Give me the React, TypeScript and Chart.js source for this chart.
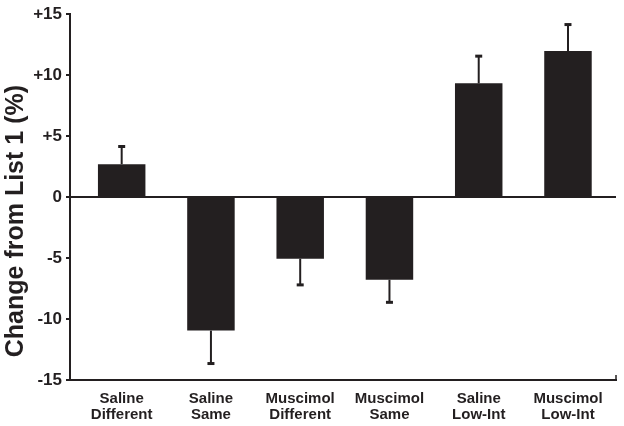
import React, { useEffect, useRef } from "react";
import { Chart, registerables } from "chart.js";

Chart.register(...registerables);

const categories: string[][] = [
  ["Saline", "Different"],
  ["Saline", "Same"],
  ["Muscimol", "Different"],
  ["Muscimol", "Same"],
  ["Saline", "Low-Int"],
  ["Muscimol", "Low-Int"],
];
const changeValues: number[] = [2.7, -10.95, -5.05, -6.78, 9.33, 11.98];
const errorValues: number[] = [1.45, 2.7, 2.15, 1.85, 2.23, 2.17];
const yTickValues: number[] = [-15, -10, -5, 0, 5, 10, 15];

const INK = "#231f20";
const FONT = "'Liberation Sans', Arial, Helvetica, sans-serif";

const errorBarPlugin = {
  id: "errorBars",
  afterDatasetsDraw(chart: any) {
    const meta = chart.getDatasetMeta(0);
    const yScale = chart.scales.y;
    const ctx = chart.ctx;
    ctx.save();
    ctx.strokeStyle = INK;
    meta.data.forEach((bar: any, i: number) => {
      const v = changeValues[i];
      const e = errorValues[i];
      const end = v >= 0 ? v + e : v - e;
      const yBar = yScale.getPixelForValue(v);
      const yEnd = yScale.getPixelForValue(end);
      const x = bar.x;
      ctx.lineWidth = 2;
      ctx.beginPath();
      ctx.moveTo(x, yBar);
      ctx.lineTo(x, yEnd);
      ctx.stroke();
      ctx.lineWidth = 3;
      ctx.beginPath();
      ctx.moveTo(x - 3.5, yEnd);
      ctx.lineTo(x + 3.5, yEnd);
      ctx.stroke();
    });
    ctx.restore();
  },
  afterDraw(chart: any) {
    const ctx = chart.ctx;
    const area = chart.chartArea;
    ctx.save();
    ctx.strokeStyle = INK;
    ctx.lineWidth = 1.5;
    ctx.beginPath();
    ctx.moveTo(area.right, area.bottom + 1);
    ctx.lineTo(area.right, area.bottom - 5);
    ctx.stroke();
    ctx.fillStyle = INK;
    ctx.font = `bold 25px ${FONT}`;
    ctx.textAlign = "center";
    ctx.textBaseline = "middle";
    ctx.translate(16, (area.top + area.bottom) / 2 + 24);
    ctx.rotate(-Math.PI / 2);
    ctx.fillText("Change from List 1 (%)", 0, 0);
    ctx.restore();
  },
};

export default function App() {
  const canvasRef = useRef<HTMLCanvasElement | null>(null);

  useEffect(() => {
    document.body.style.margin = "0";
    const canvas = canvasRef.current;
    if (!canvas) return;
    const chart = new Chart(canvas, {
      type: "bar",
      data: {
        datasets: [
          {
            data: changeValues.map((v, i) => ({ x: i, y: v })),
            backgroundColor: INK,
            borderWidth: 0,
            barPercentage: 0.532,
            categoryPercentage: 1,
          },
        ],
      },
      options: {
        animation: false,
        responsive: true,
        maintainAspectRatio: false,
        layout: { padding: { top: 12, right: 8, left: 0, bottom: 0 } },
        plugins: {
          legend: { display: false },
          tooltip: { enabled: false },
          title: { display: false },
        },
        scales: {
          x: {
            type: "linear",
            offset: false,
            min: -0.579,
            max: 5.538,
            afterFit: (scale: any) => {
              scale.height = 46;
            },
            afterBuildTicks: (scale: any) => {
              scale.ticks = categories.map((_, i) => ({ value: i }));
            },
            ticks: {
              autoSkip: false,
              maxRotation: 0,
              minRotation: 0,
              padding: 11,
              color: INK,
              font: { family: FONT, size: 15, weight: "bold", lineHeight: 1.05 },
              callback: (value: any) => {
                const i = Math.round(Number(value));
                return categories[i] ? categories[i] : "";
              },
            },
            grid: { display: true, offset: false, drawOnChartArea: false, drawTicks: false },
            border: { display: true, color: INK, width: 2 },
          },
          y: {
            min: -15,
            max: 15,
            afterFit: (scale: any) => {
              scale.width = 70;
            },
            afterBuildTicks: (scale: any) => {
              scale.ticks = yTickValues.map((v) => ({ value: v }));
            },
            ticks: {
              padding: 4,
              color: INK,
              font: { family: FONT, size: 17, weight: "bold" },
              callback: (value: any) => {
                const v = Number(value);
                return v > 0 ? `+${v}` : `${v}`;
              },
            },
            grid: {
              drawOnChartArea: true,
              drawTicks: true,
              tickLength: 4,
              tickColor: INK,
              tickWidth: 2,
              lineWidth: 2,
              color: (ctx: any) =>
                ctx.tick && ctx.tick.value === 0 ? INK : "rgba(0,0,0,0)",
            },
            border: { display: true, color: INK, width: 2 },
          },
        },
      },
      plugins: [errorBarPlugin],
    });
    return () => chart.destroy();
  }, []);

  return (
    <div style={{ width: 624, height: 426, position: "relative", background: "#fff" }}>
      <canvas ref={canvasRef} />
    </div>
  );
}
